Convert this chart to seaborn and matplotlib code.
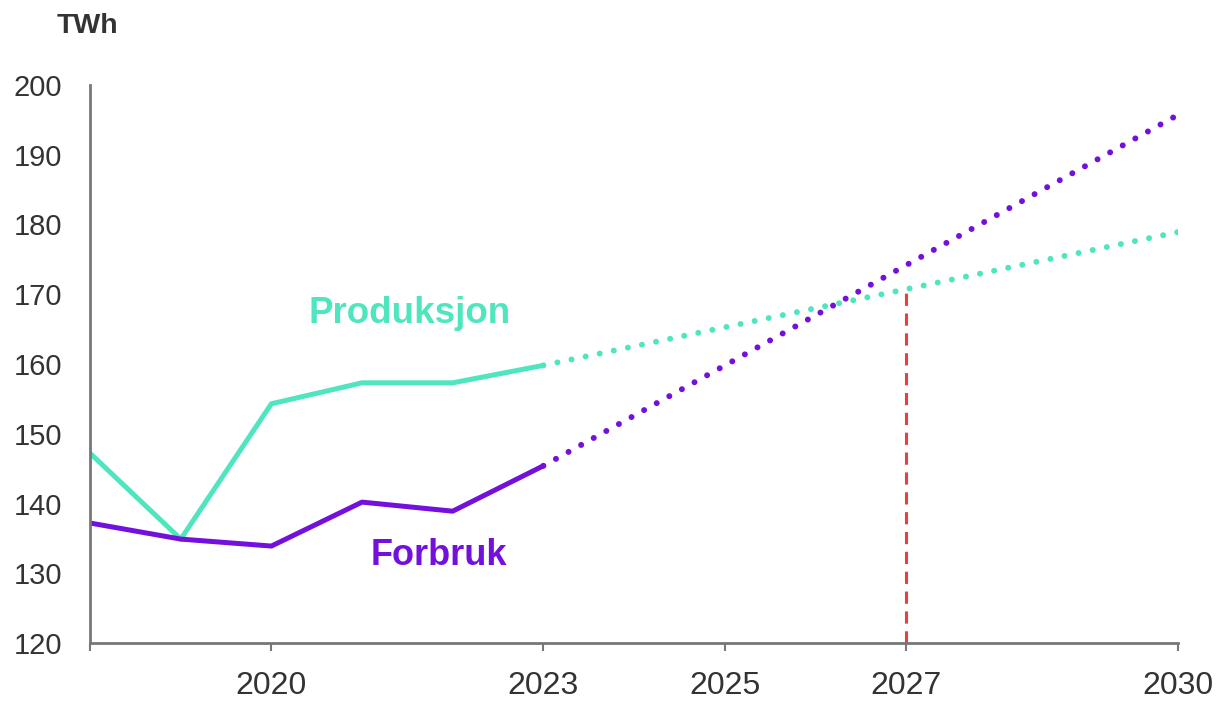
import pandas as pd
import matplotlib.pyplot as plt
import seaborn as sns

# historical values (TWh)
years_hist = [2018, 2019, 2020, 2021, 2022, 2023]
produksjon = [147.2, 134.9, 154.3, 157.3, 157.3, 159.8]
forbruk = [137.2, 134.9, 133.9, 140.2, 138.9, 145.4]

# projections
years_proj = [2023, 2030]
produksjon_proj = [159.8, 178.9]
forbruk_proj = [145.4, 195.7]

crossing_year = 2027
crossing_value = 170.8

x_ticks = [2018, 2020, 2023, 2025, 2027, 2030]
x_labels = ['', '2020', '2023', '2025', '2027', '2030']
y_ticks = [120, 130, 140, 150, 160, 170, 180, 190, 200]

teal = '#4fe6bf'
purple = '#7410dc'
red = '#e8403f'

sns.set_style('white')
plt.rcParams['font.family'] = ['Liberation Sans', 'DejaVu Sans']

df_hist = pd.DataFrame({'year': years_hist, 'prod': produksjon, 'forb': forbruk})
df_proj = pd.DataFrame({'year': years_proj, 'prod': produksjon_proj, 'forb': forbruk_proj})

fig = plt.figure(figsize=(12.18, 7.02), dpi=100)
ax = fig.add_axes([0.074, 0.084, 0.893, 0.795])

sns.lineplot(data=df_hist, x='year', y='prod', ax=ax, color=teal, linewidth=3.6)
sns.lineplot(data=df_hist, x='year', y='forb', ax=ax, color=purple, linewidth=3.6)

# dotted projections
ax.plot(df_proj['year'], df_proj['prod'], color=teal, linestyle=(0, (0.01, 2.4)),
        linewidth=4.3, dash_capstyle='round')
ax.plot(df_proj['year'], df_proj['forb'], color=purple, linestyle=(0, (0.01, 2.4)),
        linewidth=4.3, dash_capstyle='round')

ax.plot([crossing_year, crossing_year], [120, crossing_value], color=red,
        linestyle=(0, (4, 2.5)), linewidth=2.2)

ax.text(2021.52, 167.3, 'Produksjon', color=teal, fontsize=26.5, fontweight='bold',
        ha='center', va='center')
ax.text(2021.85, 132.6, 'Forbruk', color=purple, fontsize=26, fontweight='bold',
        ha='center', va='center')

ax.set_xlim(2018, 2030)
ax.set_ylim(120, 200)
ax.set_xticks(x_ticks)
ax.set_xticklabels(x_labels)
ax.set_yticks(y_ticks)
ax.set_xlabel('')
ax.set_ylabel('')

ax.tick_params(axis='x', labelsize=23, labelcolor='#333333', color='#777777',
               length=6, width=1.5, direction='out', bottom=True, pad=14)
ax.tick_params(axis='y', labelsize=21, labelcolor='#333333', length=0, pad=20)

for side in ['top', 'right']:
    ax.spines[side].set_visible(False)
for side in ['left', 'bottom']:
    ax.spines[side].set_color('#777777')
    ax.spines[side].set_linewidth(2)

fig.text(0.072, 0.963, 'TWh', fontsize=20.5, fontweight='bold', color='#333333',
         ha='center', va='center')

fig.savefig('out.png', dpi=100)
